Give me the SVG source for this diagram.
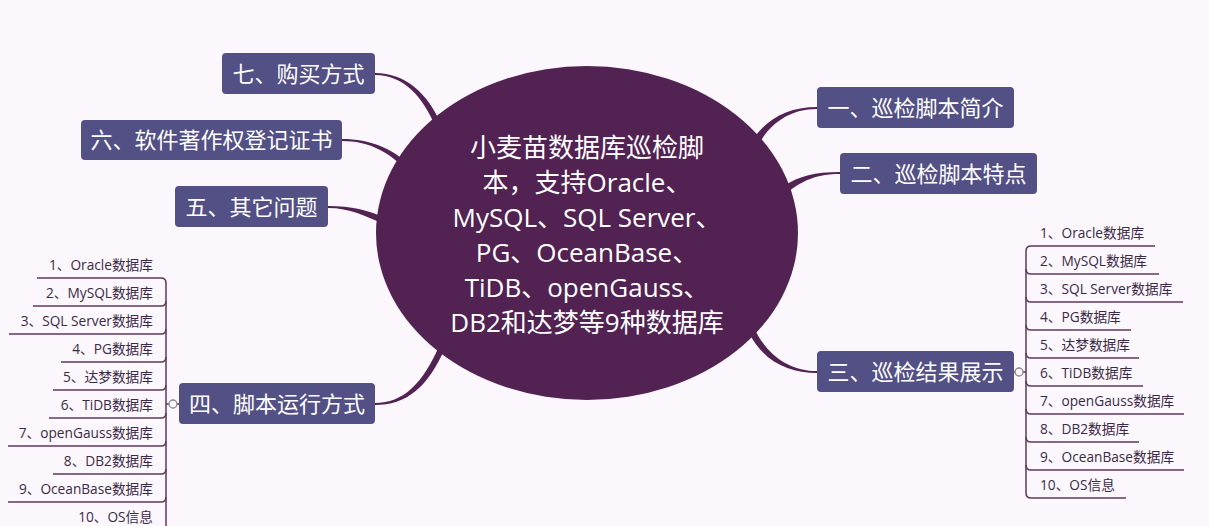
<svg xmlns="http://www.w3.org/2000/svg" width="1209" height="526" viewBox="0 0 1209 526">
<style>
.bg{fill:#fcf7fc}
.node rect{fill:#535085;}
.node text{font-family:"Noto Sans CJK SC","Noto Sans",sans-serif;font-size:22px;fill:#ffffff;text-anchor:middle}
.conn{fill:#522252}
.sub{fill:none;stroke:#5c3a5c;stroke-width:1.5}
.lt{font-family:"Open Sans","Noto Sans CJK SC",sans-serif;font-size:13.7px;fill:#3a2a45}
.lt.r{text-anchor:end}
.mk{fill:#fcf7fc;stroke:#8a8a8a;stroke-width:1.3}
.ct{font-family:"Open Sans","Noto Sans CJK SC",sans-serif;font-size:26px;fill:#ffffff;text-anchor:middle}
</style>
<rect class="bg" x="0" y="0" width="1209" height="526"/>
<g id="connectors">
<path class="conn" d="M375,73 C406,73 428,94 440.8,123.8 L435.2,126.2 C423,97 404,75 375,75 Z"/>
<path class="conn" d="M342,139 C371,139 392,149 407,163 L403,167 C388,152 369,141 342,141 Z"/>
<path class="conn" d="M328,206 C352,206 367,210 386,218 L384,224 C365,216 350,208 328,208 Z"/>
<path class="conn" d="M375,403 C403,403 423,384 440,344 L446,346 C428,388 406,405 375,405 Z"/>
<path class="conn" d="M817,107 C789,107 768,118 754,138 L760,142 C772,122 791,109 817,109 Z"/>
<path class="conn" d="M840,172 C815,172 799,176 784,186 L788,192 C802,181 816,174 840,174 Z"/>
<path class="conn" d="M817,371 C791,371 768,357 754,328 L748,331 C763,362 789,373 817,373 Z"/>
<path class="sub" d="M1014,372 L1026,372 M1026,251 L1026,493"/>
<path class="sub" d="M1026,251 Q1026,246 1031,246 L1155,246"/>
<path class="sub" d="M1026,269 Q1026,274 1031,274 L1159,274"/>
<path class="sub" d="M1026,297 Q1026,302 1031,302 L1183,302"/>
<path class="sub" d="M1026,325 Q1026,330 1031,330 L1131,330"/>
<path class="sub" d="M1026,353 Q1026,358 1031,358 L1139,358"/>
<path class="sub" d="M1026,381 Q1026,386 1031,386 L1143,386"/>
<path class="sub" d="M1026,409 Q1026,414 1031,414 L1184,414"/>
<path class="sub" d="M1026,437 Q1026,442 1031,442 L1139,442"/>
<path class="sub" d="M1026,465 Q1026,470 1031,470 L1184,470"/>
<path class="sub" d="M1026,493 Q1026,498 1031,498 L1126,498"/>
<circle class="mk" cx="1019" cy="372" r="4"/>
<path class="sub" d="M179,404 L166,404 M166,283 L166,526"/>
<path class="sub" d="M166,283 Q166,278 161,278 L37,278"/>
<path class="sub" d="M166,301 Q166,306 161,306 L33,306"/>
<path class="sub" d="M166,329 Q166,334 161,334 L9,334"/>
<path class="sub" d="M166,357 Q166,362 161,362 L61,362"/>
<path class="sub" d="M166,385 Q166,390 161,390 L53,390"/>
<path class="sub" d="M166,413 Q166,418 161,418 L49,418"/>
<path class="sub" d="M166,441 Q166,446 161,446 L8,446"/>
<path class="sub" d="M166,469 Q166,474 161,474 L53,474"/>
<path class="sub" d="M166,497 Q166,502 161,502 L8,502"/>
<circle class="mk" cx="173" cy="404" r="4"/>
</g>
<g id="center">
<ellipse cx="587" cy="233" rx="211" ry="167" fill="#522252"/>
<text class="ct" x="587" y="157">小麦苗数据库巡检脚</text>
<text class="ct" x="587" y="192">本，支持Oracle、</text>
<text class="ct" x="587" y="227">MySQL、SQL Server、</text>
<text class="ct" x="587" y="262">PG、OceanBase、</text>
<text class="ct" x="587" y="297">TiDB、openGauss、</text>
<text class="ct" x="587" y="332">DB2和达梦等9种数据库</text>
</g>
<g id="n7" class="node"><rect x="222" y="53" width="153" height="41" rx="4"/><text x="298.5" y="81.5">七、购买方式</text></g>
<g id="n6" class="node"><rect x="81" y="120" width="261" height="40" rx="4"/><text x="211.5" y="148">六、软件著作权登记证书</text></g>
<g id="n5" class="node"><rect x="175" y="186" width="153" height="41" rx="4"/><text x="251.5" y="214.5">五、其它问题</text></g>
<g id="n4" class="node"><rect x="179" y="383" width="196" height="41" rx="4"/><text x="277" y="411.5">四、脚本运行方式</text></g>
<g id="n1" class="node"><rect x="817" y="87" width="197" height="41" rx="4"/><text x="915.5" y="115.5">一、巡检脚本简介</text></g>
<g id="n2" class="node"><rect x="840" y="153" width="197" height="41" rx="4"/><text x="938.5" y="181.5">二、巡检脚本特点</text></g>
<g id="n3" class="node"><rect x="817" y="351" width="197" height="41" rx="4"/><text x="915.5" y="379.5">三、巡检结果展示</text></g>
<g id="n3-items">
<text class="lt" x="1040" y="238">1、Oracle数据库</text>
<text class="lt" x="1040" y="266">2、MySQL数据库</text>
<text class="lt" x="1040" y="294">3、SQL Server数据库</text>
<text class="lt" x="1040" y="322">4、PG数据库</text>
<text class="lt" x="1040" y="350">5、达梦数据库</text>
<text class="lt" x="1040" y="378">6、TiDB数据库</text>
<text class="lt" x="1040" y="406">7、openGauss数据库</text>
<text class="lt" x="1040" y="434">8、DB2数据库</text>
<text class="lt" x="1040" y="462">9、OceanBase数据库</text>
<text class="lt" x="1040" y="490">10、OS信息</text>
</g>
<g id="n4-items">
<text class="lt r" x="153" y="270">1、Oracle数据库</text>
<text class="lt r" x="153" y="298">2、MySQL数据库</text>
<text class="lt r" x="153" y="326">3、SQL Server数据库</text>
<text class="lt r" x="153" y="354">4、PG数据库</text>
<text class="lt r" x="153" y="382">5、达梦数据库</text>
<text class="lt r" x="153" y="410">6、TiDB数据库</text>
<text class="lt r" x="153" y="438">7、openGauss数据库</text>
<text class="lt r" x="153" y="466">8、DB2数据库</text>
<text class="lt r" x="153" y="494">9、OceanBase数据库</text>
<text class="lt r" x="153" y="522">10、OS信息</text>
</g>
</svg>
